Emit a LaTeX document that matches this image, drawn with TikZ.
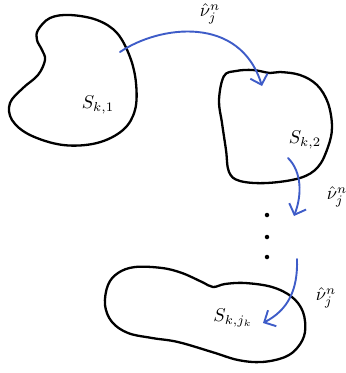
\documentclass[tikz,border=0pt]{standalone}
\usetikzlibrary{arrows.meta}
\definecolor{penblue}{RGB}{62,92,200}
\tikzset{
  blob/.style={draw=black, line width=2.3pt, line join=round},
  flow/.style={draw=penblue, line width=1.9pt, line cap=round,
    -{Straight Barb[length=9pt, width=18pt, line width=1.9pt]}},
  lbl/.style={scale=1.85, inner sep=0pt},
  dot/.style={circle, fill=black, inner sep=0pt, minimum size=4.5pt}
}
\begin{document}
\begin{tikzpicture}[x=1pt, y=-1pt]
\useasboundingbox (0,0) rectangle (346,373);
% blob 1
\draw[blob] plot[smooth cycle, tension=0.6] coordinates {
 (38,30) (50,18) (70,15) (97,20) (117,33) (130,57) (136,83) (135,110)
 (123,130) (97,143) (63,145) (30,135) (12,120) (10,103) (23,88)
 (38,75) (45,60) (42,50) (37,40)};
% blob 2
\draw[blob] plot[smooth cycle, tension=0.6] coordinates {
 (224,76) (236,71) (253,70) (270,73) (280,72) (300,75) (317,85)
 (328,103) (332,127) (328,147) (318,167) (300,178) (267,183) (240,181)
 (229,172) (226,150) (222,123) (219,100)};
% blob 3
\draw[blob] plot[smooth cycle, tension=0.6] coordinates {
 (108,285) (118,273) (135,267) (162,268) (182,273) (202,282) (213,287)
 (225,284) (245,283) (272,287) (292,297) (303,312) (305,332) (298,347)
 (285,357) (262,362) (238,360) (212,352) (178,342) (152,338) (128,333)
 (112,322) (105,305)};
% labels
\node[lbl] (s1) at (98,105) {$S_{k,1}$};
\node[lbl] (s2) at (305,140) {$S_{k,2}$};
\node[lbl] (s3) at (233,318) {$S_{k,j_k}$};
\node[lbl] (v1) at (210,14) {$\hat{\nu}_j^n$};
\node[lbl] (v2) at (337,197) {$\hat{\nu}_j^n$};
\node[lbl] (v3) at (326,298) {$\hat{\nu}_j^n$};
% dots
\node[dot] (d1) at (267,215) {};
\node[dot] (d2) at (267,237) {};
\node[dot] (d3) at (267,257) {};
% arrows
\coordinate (a1s) at (120,52);
\coordinate (a1e) at (262,86);
\coordinate (a2s) at (288,158);
\coordinate (a2e) at (294,216);
\coordinate (a3s) at (297,259);
\coordinate (a3e) at (263,323);
\draw[flow] (a1s) .. controls (160,25) and (240,15) .. (a1e);
\draw[flow] (a2s) .. controls (302,172) and (302,195) .. (a2e);
\draw[flow] (a3s) .. controls (298,290) and (288,310) .. (a3e);
\end{tikzpicture}
\end{document}
